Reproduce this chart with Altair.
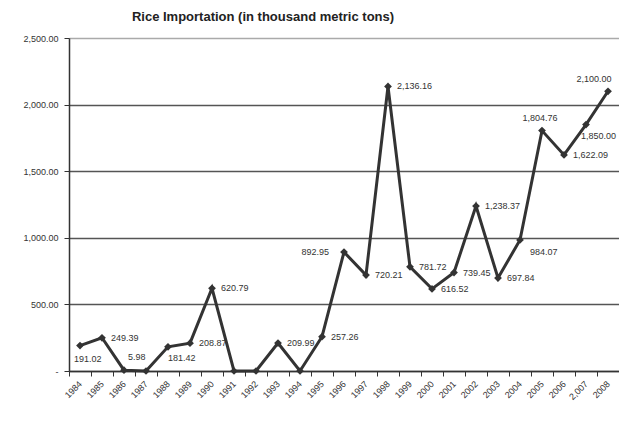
import altair as alt
import pandas as pd

years = ["1984", "1985", "1986", "1987", "1988", "1989", "1990", "1991", "1992",
         "1993", "1994", "1995", "1996", "1997", "1998", "1999", "2000", "2001",
         "2002", "2003", "2004", "2005", "2006", "2,007", "2008"]
imports = [191.02, 249.39, 5.98, 0, 181.42, 208.87, 620.79, 0, 0,
           209.99, 0, 257.26, 892.95, 720.21, 2136.16, 781.72, 616.52, 739.45,
           1238.37, 697.84, 984.07, 1804.76, 1622.09, 1850.00, 2100.00]
# where each value label sits relative to its point ("" = no label)
placement = ["BL", "R", "AR", "", "B", "R", "R", "", "",
             "R", "", "R", "L", "R", "R", "R", "R", "R",
             "R", "R", "BR", "A", "R", "B2", "AL"]

label_style = {
    "R": dict(align="left", dx=9, dy=0),
    "L": dict(align="right", dx=-15, dy=0),
    "BL": dict(align="left", dx=-6, dy=13),
    "AR": dict(align="left", dx=4, dy=-13),
    "B": dict(align="left", dx=0, dy=11),
    "B2": dict(align="left", dx=-5, dy=11),
    "BR": dict(align="left", dx=10, dy=12),
    "A": dict(align="center", dx=-2, dy=-13),
    "AL": dict(align="center", dx=-14, dy=-12),
}

df = pd.DataFrame({"year": years, "value": imports, "pos": placement})
df["label"] = df["value"].map(lambda v: f"{v:,.2f}")

FONT = "Liberation Sans"
DARK = "#333333"

x_enc = alt.X(
    "year:N", sort=None, bandPosition=0.5, title=None,
    scale=alt.Scale(type="band", paddingInner=0, paddingOuter=0),
    axis=alt.Axis(
        tickBand="extent", labelAngle=-45, labelAlign="right", labelBaseline="middle",
        labelFont=FONT, labelFontSize=9, labelColor=DARK, tickColor=DARK, tickSize=5,
        domainColor=DARK, domainWidth=1.5, labelPadding=6, grid=False,
    ),
)
y_enc = alt.Y(
    "value:Q", title=None,
    scale=alt.Scale(domain=[0, 2500], nice=False),
    axis=alt.Axis(
        values=[0, 500, 1000, 1500, 2000, 2500],
        labelExpr="datum.value == 0 ? '-\u00a0\u00a0\u00a0\u00a0\u00a0' : format(datum.value, ',.2f')",
        labelFont=FONT, labelFontSize=9, labelColor=DARK, tickColor=DARK, tickSize=5,
        domainColor=DARK, domainWidth=1.5, labelPadding=6,
        grid=True, gridWidth=1.5,
        gridColor={"condition": {"test": "datum.value == 2500", "value": "#aaaaaa"}, "value": "#555555"},
    ),
)

base = alt.Chart(df)
line = base.mark_line(color=DARK, strokeWidth=3).encode(x=x_enc, y=y_enc)
points = base.mark_point(shape="diamond", filled=True, color=DARK, size=60, opacity=1).encode(x=x_enc, y=y_enc)

layers = [line, points]
for code, st in label_style.items():
    layers.append(
        base.transform_filter(alt.datum.pos == code)
        .mark_text(font=FONT, fontSize=9, color=DARK, baseline="middle", **st)
        .encode(x=x_enc, y=y_enc, text="label:N")
    )

chart = alt.layer(*layers).properties(
    width=550, height=333,
    autosize=alt.AutoSizeParams(type="none"),
    padding={"left": 61, "top": 30, "right": 0, "bottom": 50},
    title=alt.TitleParams(
        "Rice Importation (in thousand metric tons)", font=FONT, fontSize=13,
        fontWeight="bold", color="#222222", anchor="middle", dx=-81, offset=10,
    ),
).configure_view(stroke="#aaaaaa", strokeWidth=1.5).configure(background="white")

chart.save("out.html", embed_options={"renderer": "svg", "actions": False})
